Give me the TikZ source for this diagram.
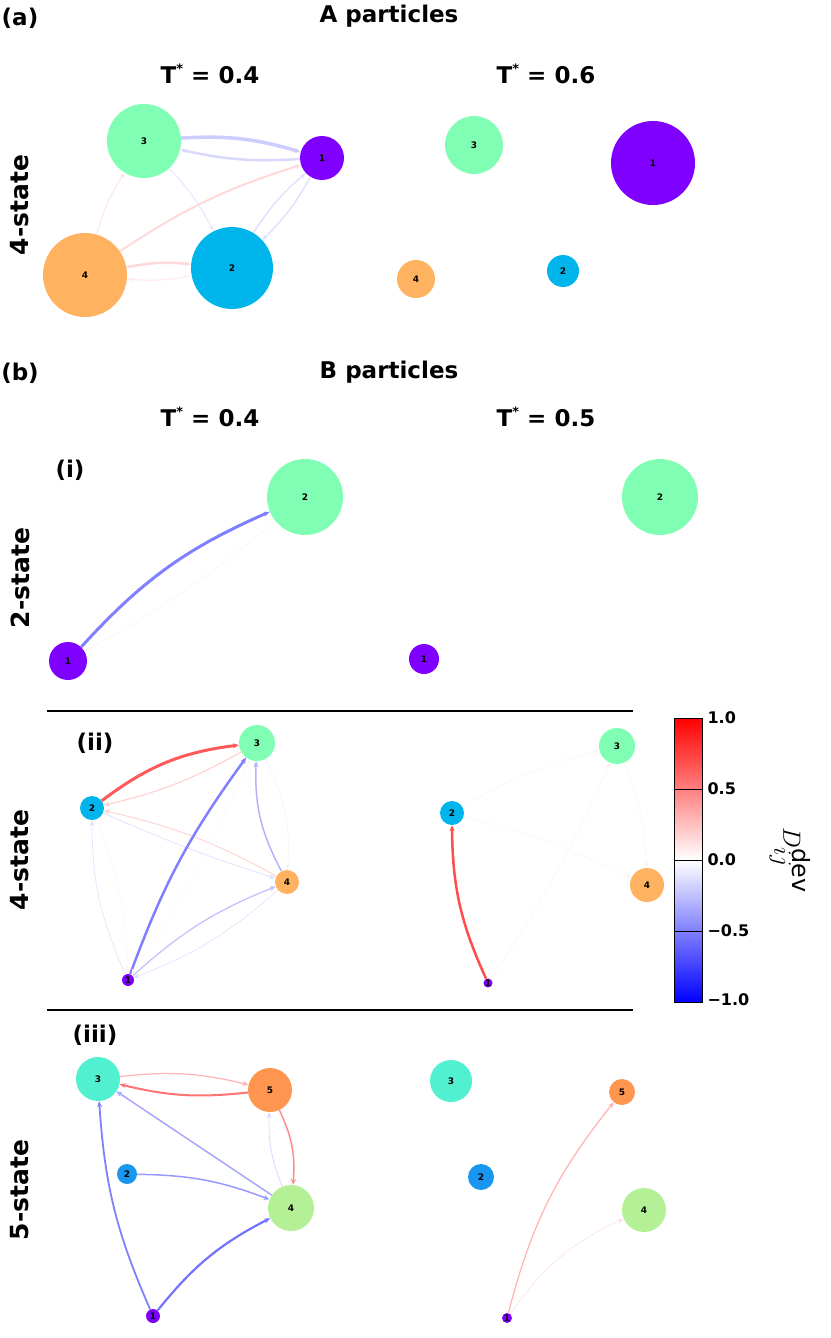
\documentclass[tikz,border=0pt]{standalone}
\usepackage{fontspec}
\setmainfont{DejaVu Sans}
\usetikzlibrary{arrows.meta}
\definecolor{cpur}{HTML}{8000FF}
\definecolor{ccya}{HTML}{00B5EB}
\definecolor{cgrn}{HTML}{80FFB4}
\definecolor{cora}{HTML}{FFB360}
\definecolor{cteal}{HTML}{50F0D0}
\definecolor{cor5}{HTML}{FF9650}
\definecolor{cblu2}{HTML}{1996F0}
\definecolor{clim}{HTML}{B4F096}
\tikzset{
 st/.style={circle,inner sep=0pt,font=\bfseries\fontsize{9}{9}\selectfont},
 ttl/.style={font=\bfseries\fontsize{23}{23}\selectfont},
 side/.style={font=\bfseries\fontsize{25}{25}\selectfont,rotate=90},
 tk/.style={font=\bfseries\fontsize{16}{16}\selectfont,anchor=west},
 ed/.style={-{Stealth[length=6pt,width=5pt]},line width=#1},
 ed/.default=1.2pt
}
\newcommand{\tstar}{T\raisebox{0.45em}{\fontsize{13}{13}\selectfont *}}
\begin{document}
\begin{tikzpicture}[x=1pt,y=-1pt]
\useasboundingbox (0,0) rectangle (830,1338);
% titles
\node[ttl] (ta) at (20,18) {(a)};
\node[ttl] (tA) at (389,16) {A particles};
\node[ttl] (t1) at (210,74) {\tstar{} = 0.4};
\node[ttl] (t2) at (546,74) {\tstar{} = 0.6};
\node[side] (s1) at (20,205) {4-state};
\node[ttl] (tb) at (20,373) {(b)};
\node[ttl] (tB) at (389,372) {B particles};
\node[ttl] (t3) at (210,417) {\tstar{} = 0.4};
\node[ttl] (t4) at (546,417) {\tstar{} = 0.5};
\node[ttl] (ti) at (70,470) {(i)};
\node[side] (s2) at (20,578) {2-state};
\node[ttl] (tii) at (95,743) {(ii)};
\node[side] (s3) at (20,860) {4-state};
\node[ttl] (tiii) at (95,1035) {(iii)};
\node[side] (s4) at (20,1190) {5-state};
\draw[line width=2.5pt] (47,711) -- (633,711);
\draw[line width=2.5pt] (47,1010) -- (633,1010);
% ---- (a) left
\node[st,fill=cgrn,minimum size=74pt] (a3) at (144,141) {3};
\node[st,fill=cpur,minimum size=44pt] (a1) at (322,158) {1};
\node[st,fill=cora,minimum size=84pt] (a4) at (85,275) {4};
\node[st,fill=ccya,minimum size=82pt] (a2) at (232,268) {2};
\draw[ed=3.5pt,color=blue!20] (a3) to[bend left=10] (a1);
\draw[ed=2.5pt,color=blue!15] (a1) to[bend left=8] (a3);
\draw[ed=2pt,color=red!15] (a4) to[bend left=8] (a1);
\draw[ed=2.5pt,color=red!15] (a4) to[bend left=8] (a2);
\draw[ed=1.2pt,color=red!8] (a2) to[bend left=8] (a4);
\draw[ed=1pt,color=red!10] (a4) to[bend left=8] (a3);
\draw[ed=1pt,color=blue!10] (a3) to[bend left=8] (a2);
\draw[ed=1.5pt,color=blue!12] (a2) to[bend left=8] (a1);
\draw[ed=1.5pt,color=blue!12] (a1) to[bend left=8] (a2);
% ---- (a) right
\node[st,fill=cgrn,minimum size=58pt] (ar3) at (474,145) {3};
\node[st,fill=cpur,minimum size=84pt] (ar1) at (653,163) {1};
\node[st,fill=cora,minimum size=38pt] (ar4) at (416,279) {4};
\node[st,fill=ccya,minimum size=32pt] (ar2) at (563,271) {2};
% ---- (b)(i)
\node[st,fill=cgrn,minimum size=76pt] (b2) at (305,497) {2};
\node[st,fill=cpur,minimum size=38pt] (b1) at (68,661) {1};
\draw[ed=3pt,color=blue!50] (b1) to[bend left=12] (b2);
\draw[ed=0.6pt,color=red!5] (b2) to[bend left=5] (b1);
\node[st,fill=cgrn,minimum size=76pt] (br2) at (660,497) {2};
\node[st,fill=cpur,minimum size=30pt] (br1) at (424,659) {1};
% ---- (b)(ii) left
\node[st,fill=cgrn,minimum size=36pt] (c3) at (257,743) {3};
\node[st,fill=ccya,minimum size=24pt] (c2) at (92,808) {2};
\node[st,fill=cora,minimum size=24pt] (c4) at (287,882) {4};
\node[st,fill=cpur,minimum size=12pt] (c1) at (128,980) {1};
\draw[ed=3pt,color=red!65] (c2) to[bend left=15] (c3);
\draw[ed=1pt,color=red!20] (c3) to[bend left=8] (c2);
\draw[ed=0.8pt,color=red!20] (c4) to[bend right=8] (c2);
\draw[ed=0.8pt,color=blue!12] (c2) to[bend right=3] (c4);
\draw[ed=2.5pt,color=blue!50] (c1) to[bend left=8] (c3);
\draw[ed=1.5pt,color=blue!30] (c4) to[bend left=15] (c3);
\draw[ed=0.6pt,color=blue!5] (c3) to[bend left=15] (c4);
\draw[ed=1.2pt,color=blue!25] (c1) to[bend left=10] (c4);
\draw[ed=0.6pt,color=blue!12] (c4) to[bend left=10] (c1);
\draw[ed=0.6pt,color=blue!12] (c1) to[bend left=12] (c2);
\draw[ed=0.4pt,color=red!5] (c2) to[bend left=10] (c1);
\draw[ed=0.4pt,color=red!5] (c3) to[bend left=5] (c1);
% ---- (b)(ii) right
\node[st,fill=cgrn,minimum size=36pt] (cr3) at (617,746) {3};
\node[st,fill=ccya,minimum size=24pt] (cr2) at (452,813) {2};
\node[st,fill=cora,minimum size=34pt] (cr4) at (647,885) {4};
\node[st,fill=cpur,minimum size=8pt] (cr1) at (488,983) {1};
\draw[ed=2.5pt,color=red!70] (cr1) to[bend left=12] (cr2);
\draw[ed=0.5pt,color=red!6] (cr2) to[bend left=8] (cr3);
\draw[ed=0.5pt,color=red!6] (cr3) to[bend left=10] (cr4);
\draw[ed=0.5pt,color=red!6] (cr2) to[bend left=5] (cr4);
\draw[ed=0.5pt,color=red!6] (cr1) to[bend right=5] (cr3);
% colorbar
\shade[top color=red,bottom color=white] (674,718) rectangle (702,860);
\shade[top color=white,bottom color=blue] (674,860) rectangle (702,1002);
\draw[line width=0.6pt] (674,718) rectangle (702,1002);
\foreach \yy in {789,860,931} \draw[line width=0.8pt] (674,\yy) -- (702,\yy);
\node[tk] (l1) at (704,718) {1.0};
\node[tk] (l2) at (704,789) {0.5};
\node[tk] (l3) at (704,860) {0.0};
\node[tk] (l4) at (704,931) {−0.5};
\node[tk] (l5) at (704,1000) {−1.0};
\node[rotate=-90,font=\fontsize{34}{34}\selectfont] (dl) at (790,860) {$D_{ij}^{\mathrm{dev}}$};
% ---- (b)(iii) left
\node[st,fill=cteal,minimum size=44pt] (d3) at (98,1079) {3};
\node[st,fill=cor5,minimum size=44pt] (d5) at (270,1090) {5};
\node[st,fill=cblu2,minimum size=20pt] (d2) at (127,1174) {2};
\node[st,fill=clim,minimum size=46pt] (d4) at (291,1208) {4};
\node[st,fill=cpur,minimum size=14pt] (d1) at (153,1316) {1};
\draw[ed=1.2pt,color=red!30] (d3) to[bend left=10] (d5);
\draw[ed=2pt,color=red!55] (d5) to[bend left=10] (d3);
\draw[ed=1.5pt,color=blue!35] (d4) to (d3);
\draw[ed=1.5pt,color=blue!40] (d2) to[bend left=10] (d4);
\draw[ed=1.8pt,color=blue!50] (d1) to[bend left=10] (d3);
\draw[ed=2.2pt,color=blue!55] (d1) to[bend left=12] (d4);
\draw[ed=0.8pt,color=blue!15] (d4) to[bend left=12] (d5);
\draw[ed=1.5pt,color=red!45] (d5) to[bend left=15] (d4);
% ---- (b)(iii) right
\node[st,fill=cteal,minimum size=42pt] (dr3) at (451,1081) {3};
\node[st,fill=cor5,minimum size=26pt] (dr5) at (622,1092) {5};
\node[st,fill=cblu2,minimum size=26pt] (dr2) at (481,1177) {2};
\node[st,fill=clim,minimum size=44pt] (dr4) at (644,1210) {4};
\node[st,fill=cpur,minimum size=10pt] (dr1) at (507,1318) {1};
\draw[ed=1.2pt,color=red!30] (dr1) to[bend left=12] (dr5);
\draw[ed=0.6pt,color=red!12] (dr1) to[bend left=15] (dr4);
\end{tikzpicture}
\end{document}
